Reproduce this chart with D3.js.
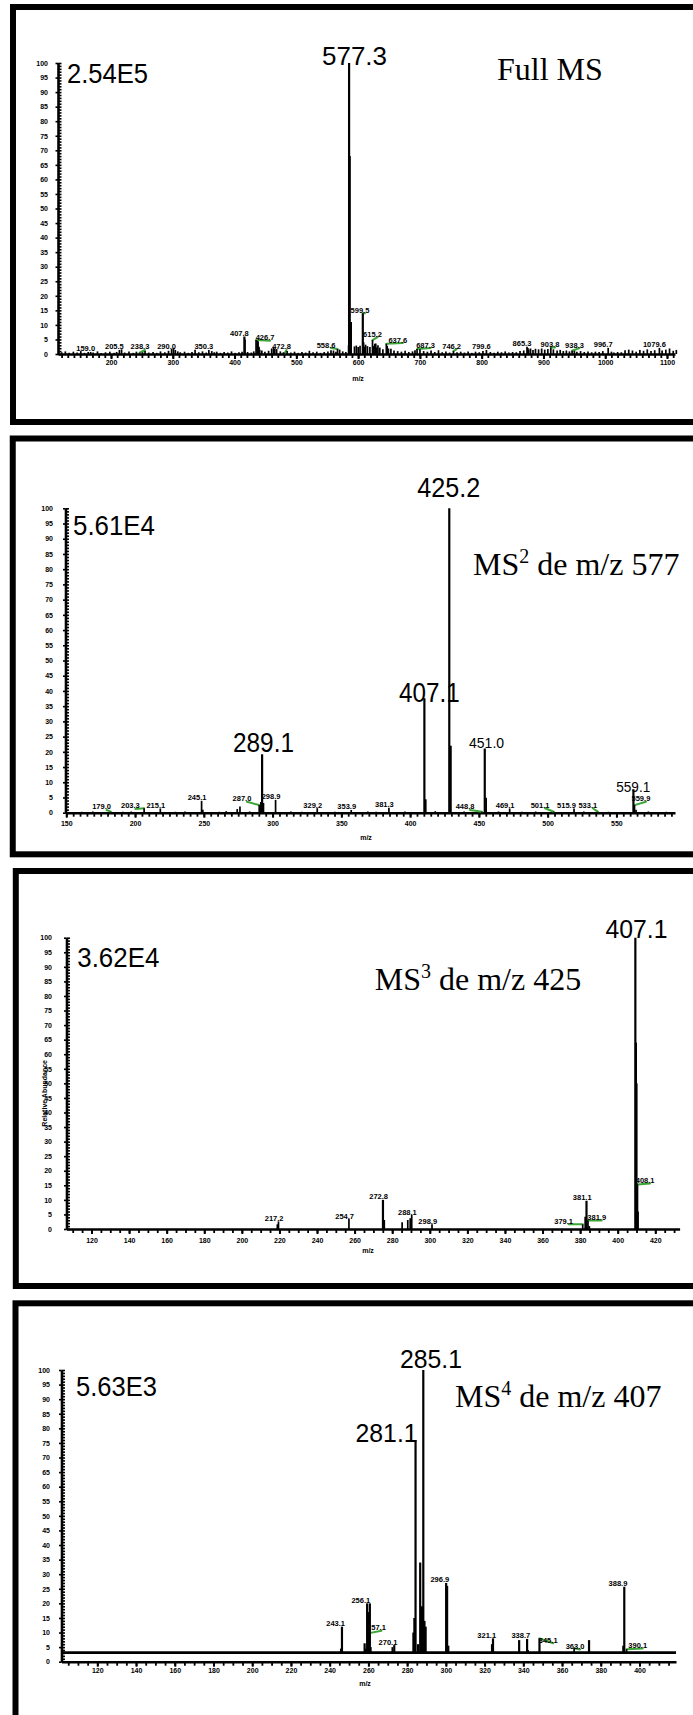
<!DOCTYPE html>
<html>
<head>
<meta charset="utf-8">
<script src="https://cdn.jsdelivr.net/npm/d3@7"></script>
<style>
  html, body { margin: 0; padding: 0; background: #fff; overflow: hidden; }
  svg { display: block; }
  .axis text { font-family: "Liberation Sans", Arial, sans-serif; font-size: 7px; font-weight: bold; fill: #000; }
  .axis path, .axis line { stroke: #000; }
  .small-label { font-family: "Liberation Sans", Arial, sans-serif; font-size: 7.5px; font-weight: bold; fill: #000; }
  .big-label { font-family: "Liberation Sans", Arial, sans-serif; fill: #000; }
  .title { font-family: "Liberation Serif", "Times New Roman", serif; font-size: 32px; fill: #000; }
  .nl { font-family: "Liberation Sans", Arial, sans-serif; font-size: 27px; fill: #000; }
</style>
</head>
<body>
<svg id="chart" width="693" height="1715"></svg>
<script>
// ---------- shared tick labels ----------
const abundanceTicks = [0, 5, 10, 15, 20, 25, 30, 35, 40, 45, 50, 55, 60, 65, 70, 75, 80, 85, 90, 95, 100];

// ---------- Full MS ----------
const fullMsTicks = [200, 300, 400, 500, 600, 700, 800, 900, 1000, 1100];
const fullMsPeaks = [
  [159.0, 0.7], [205.5, 1.4], [238.3, 0.45], [290.0, 1.7], [350.3, 1.4],
  [407.8, 6.0], [408.8, 5.0], [426.7, 4.8], [428.5, 4.6], [430.0, 4.4], [431.5, 2.5], [432.6, 1.5],
  [455.0, 2.4], [457.0, 1.8], [472.8, 0.25], [558.6, 1.7],
  [576.5, 3.0], [577.3, 100], [578.3, 68], [580.2, 11],
  [599.5, 14], [600.8, 4.0], [601.9, 2.5], [615.2, 4.8], [617.0, 2.8], [620.5, 3.6], [622.0, 2.2],
  [637.6, 3.5], [639.0, 2.8], [641.0, 1.9], [687.3, 1.7], [746.2, 1.0], [799.6, 1.4],
  [865.3, 2.5], [866.6, 2.1], [868.0, 1.6], [903.8, 2.2], [938.3, 1.1], [996.7, 2.1], [1079.6, 2.1]
];
const fullMsNoise = [
  [112, 0.6], [118, 0.9], [124, 0.4], [131, 0.8], [137, 0.5], [143, 1.0], [149, 0.4], [155, 0.7],
  [163, 0.5], [170, 0.9], [176, 0.3], [183, 0.6], [190, 0.8], [197, 0.4], [201, 0.7], [209, 1.6],
  [214, 0.5], [221, 0.9], [228, 0.4], [233, 0.8], [243, 0.6], [247, 1.0], [253, 0.5], [260, 0.7],
  [266, 0.4], [272, 0.9], [279, 0.6], [285, 1.1], [293, 2.1], [296, 1.4], [300, 0.9], [304, 0.6],
  [311, 0.8], [317, 0.4], [323, 0.7], [328, 1.5], [334, 0.6], [340, 0.9], [346, 0.5], [355, 1.0],
  [359, 0.6], [363, 0.8], [369, 0.4], [375, 0.7], [381, 0.5], [387, 0.9], [393, 0.4], [399, 0.6],
  [404, 0.8], [413, 0.7], [419, 0.5], [423, 0.9], [436, 1.2], [441, 0.8], [447, 1.1], [452, 1.9],
  [460, 1.7], [466, 0.9], [471, 0.6], [477, 1.0], [483, 0.5], [489, 0.8], [495, 0.4], [501, 0.7],
  [507, 0.5], [513, 1.1], [519, 0.6], [525, 0.8], [531, 0.4], [537, 0.7], [543, 0.9], [548, 1.3],
  [552, 1.2], [556, 0.8], [562, 1.5], [567, 0.9], [572, 0.7], [586, 2.6], [589, 2.9], [592, 2.4],
  [595, 2.8], [604, 3.2], [607, 2.7], [611, 2.4], [619, 3.5], [624, 3.0], [627, 2.2], [632, 1.6],
  [645, 1.8], [650, 1.2], [656, 1.0], [662, 0.8], [668, 1.1], [674, 0.7], [680, 0.9], [684, 1.3],
  [692, 1.6], [698, 1.0], [704, 0.8], [710, 1.2], [716, 0.7], [722, 1.3], [728, 0.6], [734, 0.9],
  [740, 0.5], [752, 0.6], [758, 0.8], [764, 0.5], [770, 0.9], [776, 0.4], [782, 0.8], [788, 0.6],
  [794, 1.0], [806, 0.7], [812, 0.4], [818, 0.8], [824, 0.6], [830, 0.9], [836, 0.5], [842, 0.7],
  [848, 0.6], [854, 1.0], [860, 1.2], [871, 1.9], [875, 1.4], [879, 1.8], [884, 1.6], [889, 1.9],
  [894, 1.5], [899, 1.7], [908, 1.6], [914, 1.2], [919, 1.4], [924, 1.0], [929, 1.2], [934, 0.9],
  [942, 1.1], [946, 0.8], [952, 1.0], [958, 0.7], [964, 0.9], [970, 0.6], [976, 0.8], [982, 0.7],
  [988, 1.0], [1002, 0.8], [1006, 0.5], [1012, 0.7], [1018, 0.6], [1024, 1.3], [1030, 1.5],
  [1036, 1.2], [1042, 0.8], [1048, 1.4], [1054, 1.1], [1060, 1.6], [1066, 1.0], [1072, 1.3],
  [1084, 1.2], [1090, 1.5], [1096, 1.9], [1102, 1.1], [1107, 1.4]
];
const fullMsLabels = [159.0, 205.5, 238.3, 290.0, 350.3, 407.8, 426.7, 472.8, 558.6, 599.5, 615.2,
  637.6, 687.3, 746.2, 799.6, 865.3, 903.8, 938.3, 996.7, 1079.6];
const fullMsMajor = [577.3];

// ---------- MS2 of m/z 577 ----------
const ms2Ticks = [150, 200, 250, 300, 350, 400, 450, 500, 550];
const ms2Peaks = [
  [179.0, 0.33], [203.3, 1.45], [215.1, 1.4], [245.1, 3.9], [246.0, 1.0], [271.0, 1.2], [273.0, 2.0],
  [287.0, 2.5], [288.2, 3.5], [289.1, 19.2], [290.1, 3.2], [298.9, 4.2], [329.2, 1.5], [353.9, 0.9],
  [381.3, 1.6], [407.1, 37.6], [408.1, 4.4], [425.2, 100], [426.2, 22], [448.8, 0.33], [451.0, 21.1],
  [452.0, 4.9], [469.1, 1.4], [501.1, 0.33], [515.9, 1.4], [533.1, 0.33], [559.1, 7.7], [559.9, 2.5],
  [561.0, 1.0]
];
const ms2Noise = [
  [158, 0.3], [166, 0.4], [188, 0.3], [194, 0.4], [226, 0.3], [233, 0.4], [258, 0.3], [263, 0.5],
  [280, 0.4], [310, 0.4], [318, 0.3], [342, 0.3], [366, 0.4], [372, 0.3], [393, 0.4], [415, 0.5],
  [436, 0.4], [461, 0.4], [478, 0.3], [488, 0.4], [523, 0.4], [541, 0.3], [570, 0.4], [583, 0.3]
];
const ms2Labels = [179.0, 203.3, 215.1, 245.1, 287.0, 298.9, 329.2, 353.9, 381.3, 448.8, 469.1,
  501.1, 515.9, 533.1, 559.9];
const ms2Major = [289.1, 407.1, 425.2, 451.0, 559.1];

// ---------- MS3 of m/z 425 ----------
const ms3Ticks = [120, 140, 160, 180, 200, 220, 240, 260, 280, 300, 320, 340, 360, 380, 400, 420];
const ms3Peaks = [
  [216.6, 1.6], [217.2, 2.6], [254.7, 3.4], [272.8, 10.0], [273.5, 3.1], [283.0, 2.3], [286.0, 3.1],
  [287.3, 3.7], [288.1, 4.8], [298.9, 1.6], [379.1, 1.6], [380.4, 4.2], [381.1, 9.7], [381.9, 2.9],
  [382.6, 1.0], [407.1, 100], [407.4, 64], [407.7, 50], [408.1, 15.3], [408.4, 6.0]
];
const ms3Labels = [217.2, 254.7, 272.8, 288.1, 298.9, 379.1, 381.1, 381.9, 408.1];
const ms3Major = [407.1];

// ---------- MS4 of m/z 407 ----------
const ms4Ticks = [120, 140, 160, 180, 200, 220, 240, 260, 280, 300, 320, 340, 360, 380, 400];
const ms4Baseline = 3.1;
const ms4Peaks = [
  [242.5, 4.5], [243.1, 12], [254.8, 6.3], [255.3, 4.5], [256.1, 20], [256.7, 17], [257.1, 9.8],
  [257.5, 20], [258.0, 5.0], [269.1, 5.0], [270.1, 5.7], [280.0, 10], [280.5, 15], [281.1, 76],
  [282.4, 6.0], [283.5, 34], [284.4, 19], [285.1, 100], [285.7, 14], [286.3, 12], [296.9, 27],
  [297.4, 26], [298.0, 5.5], [320.6, 6.0], [321.1, 8.0], [321.6, 3.5], [334.6, 7.4], [338.7, 7.8],
  [339.2, 4.0], [345.1, 8.0], [363.0, 4.6], [370.7, 7.4], [388.4, 5.5], [388.9, 25.7], [390.1, 4.3]
];
const ms4Labels = [243.1, 256.1, 257.1, 270.1, 296.9, 321.1, 338.7, 345.1, 363.0, 388.9, 390.1];
const ms4Major = [281.1, 285.1];

// ---------- layout of each panel ----------
const panels = [
  {
    peaks: fullMsPeaks, noise: fullMsNoise, labels: fullMsLabels, major: fullMsMajor, ticks: fullMsTicks,
    minorStep: 10, frame: { x: 13, y: 7, h: 415 },
    xDomain: [114.2, 1112.95], xRange: [58, 675], yRange: [354, 63], shift: 5,
    yGap: 10, xPad: 1.2, mzTitle: [358, 381],
    norm: { text: "2.54E5", x: 67, y: 83.3, w: 81 },
    title: { main: "Full MS", x: 497, y: 80 },
    offsets: {
      "238.3": [5.3, -2.7], "426.7": [14, 0.7], "472.8": [2, -3.3], "558.6": [-6.5, -1],
      "599.5": [2.2, 0], "615.2": [5, -3], "637.6": [16.5, -0.7], "687.3": [13.5, -1],
      "746.2": [3.2, -2], "903.8": [4.2, 0], "938.3": [7.4, -2.7]
    },
    majorStyle: { "577.3": { size: 25.5, w: 65, dx: 10.4, dy: 2, anchor: "middle" } }
  },
  {
    peaks: ms2Peaks, noise: ms2Noise, labels: ms2Labels, major: ms2Major, ticks: ms2Ticks,
    minorStep: 5, frame: { x: 12.75, y: 438.5, h: 415.8 },
    xDomain: [149.42, 592.6], xRange: [65.5, 675], yRange: [812.7, 508.3], shift: 4.5,
    yGap: 12.5, xPad: 3.3, mzTitle: [366, 839.5],
    norm: { text: "5.61E4", x: 73, y: 535, w: 82 },
    title: { main: "MS", sup: "2", rest: " de m/z 577", x: 473, y: 575 },
    offsets: {
      "179.0": [-4.6, -1.7], "203.3": [-9.2, 0.7], "287.0": [-12.7, -3.3], "448.8": [-12.2, -1.7],
      "501.1": [-9.1, -3.4], "515.9": [-3, 0, false], "533.1": [-5.4, -3.4], "559.9": [10.9, -3.3]
    },
    majorStyle: {
      "289.1": { size: 28, w: 61, dx: 5.9, dy: -2.6, anchor: "middle" },
      "407.1": { size: 28, w: 60.6, dx: 9.5, dy: 3.5, anchor: "middle" },
      "425.2": { size: 27, w: 63, dx: 4, dy: -11, anchor: "middle" },
      "451.0": { size: 14.5, w: 35, dx: 6.3, dy: -0.5, anchor: "middle" },
      "559.1": { size: 14.5, w: 34, dx: 4.3, dy: 2.4, anchor: "middle" }
    }
  },
  {
    peaks: ms3Peaks, noise: [], labels: ms3Labels, major: ms3Major, ticks: ms3Ticks,
    minorStep: 5, frame: { x: 15.8, y: 871, h: 415 },
    xDomain: [106.7, 432.93], xRange: [66.5, 679.6], yRange: [1229, 937.7], shift: 4.3,
    yGap: 14.5, xPad: 3.8, mzTitle: [368, 1252.5], yTitle: true,
    norm: { text: "3.62E4", x: 77.3, y: 967.3, w: 82 },
    title: { main: "MS", sup: "3", rest: " de m/z 425", x: 374.7, y: 990 },
    offsets: { "379.1": [-14.8, 0], "381.9": [13, 0], "408.1": [12.2, -1] },
    majorStyle: { "407.1": { size: 25, w: 62, dx: 5.4, dy: 0.6, anchor: "middle" } }
  },
  {
    peaks: ms4Peaks, noise: [], labels: ms4Labels, major: ms4Major, ticks: ms4Ticks,
    minorStep: 5, frame: { x: 15.5, y: 1303.3, h: 600 }, baseline: ms4Baseline,
    xDomain: [101.51, 418.86], xRange: [61.5, 676], yRange: [1661.7, 1370], shift: 6.3,
    yGap: 11.5, xPad: 1.1, mzTitle: [365, 1686],
    norm: { text: "5.63E3", x: 76, y: 1396, w: 81 },
    title: { main: "MS", sup: "4", rest: " de m/z 407", x: 455, y: 1406.7 },
    offsets: { "257.1": [13.7, -2.3], "345.1": [15, 4.9], "363.0": [7.2, 1.3], "390.1": [17.4, -0.7] },
    majorStyle: {
      "285.1": { size: 26, w: 62, dx: 14, dy: -2, anchor: "middle" },
      "281.1": { size: 26, w: 62, dx: 2, dy: 1.7, anchor: "end" }
    }
  }
];

const svg = d3.select("#chart");
const fmt = d3.format(".1f");

panels.forEach(p => {
  const g = svg.append("g");
  const x = d3.scaleLinear().domain(p.xDomain).range(p.xRange);
  const y = d3.scaleLinear().domain([0, 100]).range(p.yRange);
  const stickX = m => x(m) + p.shift;
  const base = p.baseline || 0;
  const y0 = y(0);
  const peakOf = m => p.peaks.find(d => Math.abs(d[0] - m) < 0.05);

  // panel frame
  g.append("rect")
    .attr("x", p.frame.x).attr("y", p.frame.y)
    .attr("width", 760).attr("height", p.frame.h)
    .attr("fill", "none").attr("stroke", "#000").attr("stroke-width", 6);

  // x axis: minor ticks, then major ticks with labels
  const minor = d3.range(Math.ceil(p.xDomain[0] / p.minorStep) * p.minorStep, p.xDomain[1], p.minorStep);
  g.append("g").attr("class", "axis").attr("transform", `translate(0,${y0})`)
    .call(d3.axisBottom(x).tickValues(minor).tickSize(4).tickSizeOuter(0).tickFormat(""))
    .call(s => s.select(".domain").attr("stroke-width", 2.6))
    .call(s => s.selectAll(".tick line").attr("stroke-width", 1.8));
  g.append("g").attr("class", "axis").attr("transform", `translate(0,${y0})`)
    .call(d3.axisBottom(x).tickValues(p.ticks).tickSize(5).tickSizeOuter(0).tickPadding(p.xPad).tickFormat(d3.format("d")))
    .call(s => s.select(".domain").remove())
    .call(s => s.selectAll(".tick line").attr("stroke-width", 2));

  // y axis: labels on the left, dense ladder of ticks either side of the line
  const yAxisX = p.xRange[0];
  g.append("g").attr("class", "axis").attr("transform", `translate(${yAxisX},0)`)
    .call(d3.axisLeft(y).tickValues(abundanceTicks).tickSize(0).tickPadding(p.yGap))
    .call(s => s.select(".domain").attr("stroke-width", 2.6));
  g.append("g").attr("class", "axis").attr("transform", `translate(${yAxisX},0)`)
    .call(d3.axisRight(y).tickValues(d3.range(0, 101, 1)).tickSize(3.5).tickSizeOuter(0).tickFormat(""))
    .call(s => s.select(".domain").remove())
    .call(s => s.selectAll(".tick line").attr("stroke-width", 1.6));
  g.append("g").attr("class", "axis").attr("transform", `translate(${yAxisX},0)`)
    .call(d3.axisLeft(y).tickValues(abundanceTicks).tickSize(2.5).tickSizeOuter(0).tickFormat(""))
    .call(s => s.select(".domain").remove())
    .call(s => s.selectAll(".tick line").attr("stroke-width", 1.6));

  // axis titles
  g.append("text").attr("x", p.mzTitle[0]).attr("y", p.mzTitle[1])
    .attr("text-anchor", "middle")
    .style("font-family", "Liberation Sans, Arial, sans-serif").style("font-size", "7px").style("font-weight", "bold")
    .text("m/z");
  if (p.yTitle) {
    g.append("text")
      .attr("transform", `translate(${yAxisX - 20},${y(50) + 10}) rotate(-90)`)
      .attr("text-anchor", "middle")
      .style("font-family", "Liberation Sans, Arial, sans-serif").style("font-size", "7px").style("font-weight", "bold")
      .text("Relative Abundance");
  }

  // raised baseline of the spectrum
  if (base > 0) {
    g.append("line").attr("x1", yAxisX).attr("x2", p.xRange[1])
      .attr("y1", y(base)).attr("y2", y(base)).attr("stroke", "#000").attr("stroke-width", 2.6);
  }

  // small annotations (drawn under the sticks), with green leaders when moved aside
  p.labels.forEach(m => {
    const pk = peakOf(m);
    const off = p.offsets[fmt(m)] || [0, 0, false];
    const lx = x(m) + off[0];
    const ly = y(pk[1]) + off[1];
    if (p.offsets[fmt(m)] && off[2] !== false) {
      g.append("line")
        .attr("x1", stickX(m)).attr("y1", y(pk[1]))
        .attr("x2", lx + 5).attr("y2", ly)
        .attr("stroke", "#3aa635").attr("stroke-width", 2).attr("stroke-linecap", "round");
    }
    g.append("text").attr("class", "small-label")
      .attr("x", lx).attr("y", ly - 0.5).attr("text-anchor", "middle").text(fmt(m));
  });

  // spectrum sticks
  const sticks = p.noise.concat(p.peaks);
  g.append("g").selectAll("line").data(sticks).join("line")
    .attr("x1", d => stickX(d[0])).attr("x2", d => stickX(d[0]))
    .attr("y1", y(base)).attr("y2", d => y(d[1]))
    .attr("stroke", "#000").attr("stroke-width", d => d[1] > 5 ? 2.2 : 1.7);

  // large annotations
  p.major.forEach(m => {
    const pk = peakOf(m);
    const st = p.majorStyle[fmt(m)];
    g.append("text").attr("class", "big-label")
      .attr("x", st.anchor === "end" ? stickX(m) + st.dx : x(m) + st.dx)
      .attr("y", y(pk[1]) + st.dy)
      .attr("text-anchor", st.anchor).style("font-size", st.size + "px")
      .attr("textLength", st.w).attr("lengthAdjust", "spacingAndGlyphs")
      .text(fmt(m));
  });

  // normalisation level
  g.append("text").attr("class", "nl").attr("x", p.norm.x).attr("y", p.norm.y)
    .attr("textLength", p.norm.w).attr("lengthAdjust", "spacingAndGlyphs").text(p.norm.text);

  // scan title
  const t = g.append("text").attr("class", "title").attr("x", p.title.x).attr("y", p.title.y);
  t.append("tspan").text(p.title.main);
  if (p.title.sup) {
    t.append("tspan").attr("dy", -12).style("font-size", "20px").text(p.title.sup);
    t.append("tspan").attr("dy", 12).text(p.title.rest);
  }
});
</script>
</body>
</html>
